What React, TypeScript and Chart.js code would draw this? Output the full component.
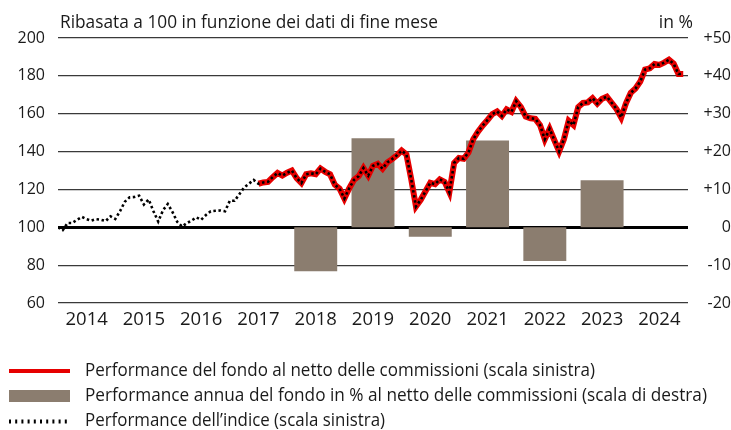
import React, { useEffect, useRef } from "react";
import { Chart, registerables } from "chart.js";

Chart.register(...registerables);

// ---- data ----
const yearLabels = ["2014", "2015", "2016", "2017", "2018", "2019", "2020", "2021", "2022", "2023", "2024"];

// annual fund performance in % (right scale), one value per year
const annualReturns: (number | null)[] = [null, null, null, null, -11.6, 23.5, -2.5, 22.9, -8.9, 12.4, null];

// month-end index values, rebased to 100 (Dec 2013 .. Nov 2024)
const indexValues = [
  100, 98.5, 102.3, 102.3, 104, 105.5, 104.3, 103.5, 104.3, 104, 103.3, 105.8,
  104.4, 108.5, 113.5, 115.8, 116, 116.7, 112, 114.7, 108.5, 103, 109, 112.3,
  108, 102.8, 100.4, 102.2, 103.6, 105.2, 104, 106.5, 108.5, 108.7, 108.9, 108.5,
  114, 114, 117.5, 121, 123, 125, 123, 123.7, 124, 126.5, 128.7, 127.3,
  128.8, 130, 126, 123.4, 128, 128.5, 128, 131, 129.3, 128, 122.5, 120.4,
  115.2, 120.5, 125, 127, 131.3, 127.3, 132.5, 133.5, 131, 134.3, 136, 138,
  140.5, 138.5, 125.5, 111, 114.5, 119, 123.5, 122.8, 125.3, 124, 118.5, 134,
  136.6, 136.2, 139.5, 146.5, 150.5, 153.8, 156.7, 159.8, 161.2, 158.8, 162.3, 161,
  166.6, 163.5, 158.5, 157.6, 157.3, 154, 146.5, 152, 146, 140.1, 146.5, 156.3,
  154, 163.5, 165.7, 166, 168.2, 165.3, 167.9, 169, 165.8, 162.6, 158, 165.5,
  171, 173.3, 177, 183.3, 184, 186.3, 185.8, 187, 188.5, 186.4, 181, 181,
];

// the fund line starts mid-2017 and coincides with the index line
const fundStartMonth = 42;
const fundValues = indexValues.slice(fundStartMonth);

const leftMin = 60;
const leftMax = 200;
const rightMin = -20;
const rightMax = 50;

const titleText = "Ribasata a 100 in funzione dei dati di fine mese";
const unitText = "in %";
const legendLabels = [
  "Performance del fondo al netto delle commissioni (scala sinistra)",
  "Performance annua del fondo in % al netto delle commissioni (scala di destra)",
  "Performance dell\u2019indice (scala sinistra)",
];

const FONT = "'Open Sans', 'DejaVu Sans', sans-serif";
const RED = "#e60000";
const BAR = "#8b7d6f";
const TEXT = "#1a1a1a";

const overlayPlugin = {
  id: "overlay",
  afterDraw(chart: any) {
    const ctx = chart.ctx as CanvasRenderingContext2D;
    const area = chart.chartArea;
    ctx.save();
    ctx.fillStyle = TEXT;
    ctx.font = `17.5px ${FONT}`;
    ctx.textBaseline = "alphabetic";
    ctx.textAlign = "left";
    ctx.fillText(titleText, area.left + 2, 28, 378);
    ctx.textAlign = "right";
    ctx.fillText(unitText, area.right + 5, 28);

    // legend
    const rows = [371, 396, 421];
    const maxW = [510, 622, 300];
    const x0 = 9;
    const x1 = 70;
    ctx.fillStyle = RED;
    ctx.fillRect(x0, rows[0] - 2, x1 - x0, 4);
    ctx.fillStyle = BAR;
    ctx.fillRect(x0, rows[1] - 6, x1 - x0, 12);
    ctx.strokeStyle = "#000";
    ctx.lineWidth = 4;
    ctx.setLineDash([2, 4.2]);
    ctx.beginPath();
    ctx.moveTo(x0, rows[2] + 0.5);
    ctx.lineTo(x1 - 3, rows[2] + 0.5);
    ctx.stroke();
    ctx.setLineDash([]);

    ctx.fillStyle = TEXT;
    ctx.font = `17.3px ${FONT}`;
    ctx.textAlign = "left";
    ctx.textBaseline = "middle";
    legendLabels.forEach((t, i) => ctx.fillText(t, 85, rows[i], maxW[i]));
    ctx.restore();
  },
};

export default function App() {
  const ref = useRef<HTMLCanvasElement | null>(null);

  useEffect(() => {
    if (!ref.current) return;
    const chart = new Chart(ref.current, {
      type: "bar",
      data: {
        labels: yearLabels,
        datasets: [
          {
            type: "line",
            label: legendLabels[2],
            data: indexValues.map((v, i) => ({ x: i, y: v })),
            xAxisID: "x",
            yAxisID: "y",
            borderColor: "#000",
            borderWidth: 2.6,
            borderDash: [2.5, 2.6],
            pointRadius: 0,
            tension: 0,
            order: 1,
          } as any,
          {
            type: "line",
            label: legendLabels[0],
            data: fundValues.map((v, i) => ({ x: i + fundStartMonth, y: v })),
            xAxisID: "x",
            yAxisID: "y",
            borderColor: RED,
            borderWidth: 6,
            pointRadius: 0,
            tension: 0,
            order: 2,
          } as any,
          {
            type: "bar",
            label: legendLabels[1],
            data: annualReturns,
            xAxisID: "xb",
            yAxisID: "y2",
            backgroundColor: BAR,
            borderWidth: 0,
            grouped: false,
            barPercentage: 0.75,
            categoryPercentage: 1,
            order: 3,
          } as any,
        ],
      },
      options: {
        animation: false,
        responsive: false,
        maintainAspectRatio: false,
        layout: { padding: { top: 38, left: 0, right: 0, bottom: 97 } },
        plugins: {
          legend: { display: false },
          title: { display: false },
          tooltip: { enabled: false },
        },
        scales: {
          x: {
            type: "linear",
            position: "bottom",
            offset: false,
            min: 0,
            max: 132,
            grid: { display: false, offset: false },
            border: { display: false },
            afterBuildTicks: (scale: any) => {
              scale.ticks = yearLabels.map((_, i) => ({ value: i * 12 + 6 }));
            },
            afterFit: (scale: any) => {
              scale.height = 30;
            },
            ticks: {
              autoSkip: false,
              maxRotation: 0,
              minRotation: 0,
              padding: -2,
              color: TEXT,
              font: { family: FONT, size: 18.5 },
              callback: (v: any) => yearLabels[Math.round((Number(v) - 6) / 12)],
            },
          },
          xb: {
            type: "category",
            display: false,
            offset: true,
            grid: { display: false, offset: true },
          },
          y: {
            type: "linear",
            position: "left",
            min: leftMin,
            max: leftMax,
            grid: {
              drawTicks: false,
              color: (c: any) => (c.tick && c.tick.value === 100 ? "#000" : "#3a3a3a"),
              lineWidth: (c: any) => (c.tick && c.tick.value === 100 ? 3 : 1.2),
            },
            border: { display: false },
            afterFit: (scale: any) => {
              scale.width = 58;
            },
            ticks: {
              stepSize: 20,
              padding: 13,
              color: TEXT,
              font: { family: FONT, size: 16 },
            },
          },
          y2: {
            type: "linear",
            position: "right",
            min: rightMin,
            max: rightMax,
            grid: { display: false, drawTicks: false },
            border: { display: false },
            afterFit: (scale: any) => {
              scale.width = 43;
            },
            ticks: {
              stepSize: 10,
              padding: 6,
              crossAlign: "far",
              color: TEXT,
              font: { family: FONT, size: 16 },
              callback: (v: any) => (Number(v) > 0 ? "+" + v : String(v)),
            },
          },
        },
      } as any,
      plugins: [overlayPlugin],
    });
    return () => chart.destroy();
  }, []);

  return (
    <div style={{ position: "absolute", left: 0, top: 0, width: 731, height: 430, background: "#fff" }}>
      <canvas ref={ref} width={731} height={430} style={{ display: "block", width: 731, height: 430 }} />
    </div>
  );
}
